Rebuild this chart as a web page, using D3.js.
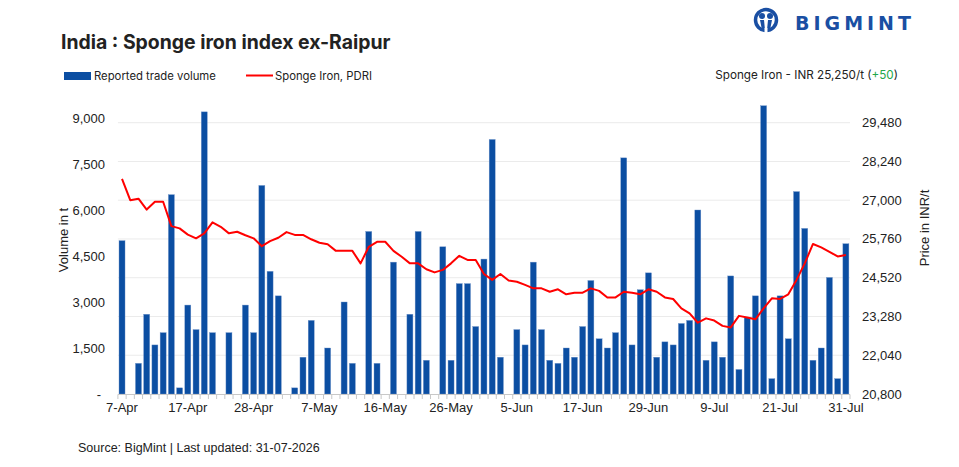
<!DOCTYPE html>
<html>
<head>
<meta charset="utf-8">
<script src="https://cdn.jsdelivr.net/npm/d3@7"></script>
<style>
  body { margin: 0; background: #fff; }
  text { fill: #222; }
</style>
</head>
<body>
<script>
// reported trade volume (t), one value per trading day
const volume = [5000, 0, 1000, 2600, 1600, 2000, 6500, 200, 2900, 2100,
  9200, 2000, 0, 2000, 0, 2900, 2000, 6800, 4000, 3200,
  0, 200, 1200, 2400, 0, 1500, 0, 3000, 1000, 0,
  5300, 1000, 0, 4300, 0, 2600, 5300, 1100, 0, 4800,
  1100, 3600, 3600, 2200, 4400, 8300, 1200, 0, 2100, 1600,
  4300, 2100, 1100, 1000, 1500, 1200, 2200, 3700, 1800, 1500,
  2000, 7700, 1600, 3400, 3950, 1200, 1700, 1600, 2300, 2400,
  6000, 1100, 1700, 1200, 3850, 800, 2500, 3200, 9400, 500,
  3200, 1800, 6600, 5400, 1100, 1500, 3800, 500, 4900];

// Sponge Iron PDRI (INR/t)
const price = [27680, 27000, 27050, 26700, 26950, 26950, 26170, 26100, 25900, 25780,
  25940, 26290, 26150, 25940, 25990, 25880, 25780, 25530, 25690, 25800,
  25980, 25890, 25890, 25750, 25640, 25590, 25380, 25380, 25380, 24980,
  25510, 25670, 25670, 25380, 25190, 24980, 24980, 24790, 24690, 24770,
  24980, 25220, 25090, 25090, 24640, 24450, 24640, 24430, 24390, 24290,
  24180, 24180, 24070, 24150, 23990, 24040, 24040, 24180, 24100, 23890,
  23890, 24070, 24040, 23990, 24150, 24070, 23890, 23840, 23540, 23380,
  23080, 23220, 23150, 22980, 22930, 23300, 23250, 23190, 23540, 23860,
  23840, 23990, 24450, 24980, 25600, 25490, 25350, 25200, 25250];

const tickLabels = ["7-Apr", "17-Apr", "28-Apr", "7-May", "16-May", "26-May",
  "5-Jun", "17-Jun", "29-Jun", "9-Jul", "21-Jul", "31-Jul"];
const leftTicks = [0, 1500, 3000, 4500, 6000, 7500, 9000];
const rightTicks = [20800, 22040, 23280, 24520, 25760, 27000, 28240, 29480];

const width = 959, height = 467;
const axisFont = "'Liberation Sans', Arial, sans-serif";
const headFont = "Inter, 'Noto Sans', sans-serif";
const blue = "#0b4ea2";

const svg = d3.select("body").append("svg")
  .attr("width", width).attr("height", height);

const idx = volume.map((d, i) => i);
const x = d3.scaleBand().domain(idx).range([117.9, 850]).paddingInner(0.27).paddingOuter(0.135);
const yL = d3.scaleLinear().domain([0, 9000]).range([394, 118]);
const yR = d3.scaleLinear().domain([20800, 29480]).range([394, 122.7]);

// gridlines follow the price axis
svg.append("g").selectAll("line").data(rightTicks.slice(1)).enter().append("line")
  .attr("x1", 117.9).attr("x2", 850)
  .attr("y1", d => yR(d)).attr("y2", d => yR(d))
  .attr("stroke", "#ebebeb").attr("stroke-width", 1);

// bars
svg.append("g").selectAll("rect").data(volume).enter().append("rect")
  .attr("x", (d, i) => x(i))
  .attr("width", x.bandwidth())
  .attr("y", d => yL(d))
  .attr("height", d => yL(0) - yL(d))
  .attr("fill", blue)
  .attr("stroke", "#6f93c9").attr("stroke-width", 0.4);

// x axis line and category ticks
const xa = svg.append("g");
xa.append("line").attr("x1", 117.9).attr("x2", 850).attr("y1", 394.5).attr("y2", 394.5)
  .attr("stroke", "#c8c8c8");
xa.selectAll("line.tk").data(d3.range(idx.length + 1)).enter().append("line")
  .attr("class", "tk")
  .attr("x1", d => 117.9 + d * (732.1 / idx.length))
  .attr("x2", d => 117.9 + d * (732.1 / idx.length))
  .attr("y1", 394.5).attr("y2", 399)
  .attr("stroke", "#c8c8c8");
xa.selectAll("text").data(tickLabels).enter().append("text")
  .attr("x", (d, j) => x(j * 8) + x.bandwidth() / 2)
  .attr("y", 412)
  .attr("text-anchor", "middle")
  .attr("font-family", axisFont).attr("font-size", 13)
  .text(d => d);

// price line
const line = d3.line().x((d, i) => x(i) + x.bandwidth() / 2).y(d => yR(d));
svg.append("path").datum(price)
  .attr("d", line)
  .attr("fill", "none").attr("stroke", "#ff0000").attr("stroke-width", 2)
  .attr("stroke-linejoin", "round");

// left axis
const fmt = d3.format(",");
svg.append("g").selectAll("text").data(leftTicks).enter().append("text")
  .attr("x", d => d === 0 ? 101 : 105)
  .attr("y", d => yL(d) + 4.5)
  .attr("text-anchor", "end")
  .attr("font-family", axisFont).attr("font-size", 13)
  .text(d => d === 0 ? "-" : fmt(d));

// right axis
svg.append("g").selectAll("text").data(rightTicks).enter().append("text")
  .attr("x", 862)
  .attr("y", d => yR(d) + 4.5)
  .attr("font-family", axisFont).attr("font-size", 13)
  .text(d => fmt(d));

// axis titles
svg.append("text")
  .attr("transform", "translate(68,240) rotate(-90)")
  .attr("text-anchor", "middle")
  .attr("font-family", axisFont).attr("font-size", 13)
  .text("Volume in t");
svg.append("text")
  .attr("transform", "translate(929,228) rotate(-90)")
  .attr("text-anchor", "middle")
  .attr("font-family", axisFont).attr("font-size", 13)
  .text("Price in INR/t");

// title
svg.append("text").attr("x", 61).attr("y", 49)
  .attr("font-family", headFont).attr("font-size", 19.4).attr("font-weight", 700)
  .attr("fill", "#111")
  .text("India : Sponge iron index ex-Raipur");

// legend
svg.append("rect").attr("x", 64).attr("y", 72).attr("width", 27).attr("height", 8).attr("fill", blue);
svg.append("text").attr("x", 94).attr("y", 80)
  .attr("font-family", headFont).attr("font-size", 11.3).text("Reported trade volume");
svg.append("line").attr("x1", 246).attr("x2", 273).attr("y1", 75.5).attr("y2", 75.5)
  .attr("stroke", "#ff0000").attr("stroke-width", 2);
svg.append("text").attr("x", 275).attr("y", 80)
  .attr("font-family", headFont).attr("font-size", 11.3).text("Sponge Iron, PDRI");

// latest price note
const note = svg.append("text").attr("x", 898).attr("y", 79).attr("text-anchor", "end")
  .attr("font-family", headFont).attr("font-size", 11.7);
note.append("tspan").text("Sponge Iron - INR 25,250/t (");
note.append("tspan").style("fill", "#22a84a").text("+50");
note.append("tspan").text(")");

// logo
const logo = svg.append("g").attr("transform", "translate(766,20)");
logo.append("circle").attr("r", 10.5).attr("fill", "none").attr("stroke", "#1a4fa3").attr("stroke-width", 3.5);
logo.append("circle").attr("cx", -4).attr("cy", -4).attr("r", 3).attr("fill", "#1a4fa3");
logo.append("circle").attr("cx", 4).attr("cy", -4).attr("r", 3).attr("fill", "#1a4fa3");
logo.append("path").attr("d", "M-6,0 L-2,0 L-1,10 L-4,10 Z M6,0 L2,0 L1,10 L4,10 Z").attr("fill", "#1a4fa3");
logo.append("rect").attr("x", -1.5).attr("y", 8).attr("width", 3).attr("height", 6).attr("fill", "#fff");
svg.append("text").attr("x", 795).attr("y", 30)
  .attr("font-family", "'DejaVu Sans', sans-serif").attr("font-weight", 700)
  .attr("font-size", 19).attr("letter-spacing", 4)
  .style("fill", "#1a4fa3")
  .text("BIGMINT");

// source
svg.append("text").attr("x", 78).attr("y", 452)
  .attr("font-family", axisFont).attr("font-size", 12.5)
  .text("Source: BigMint | Last updated: 31-07-2026");
</script>
</body>
</html>
